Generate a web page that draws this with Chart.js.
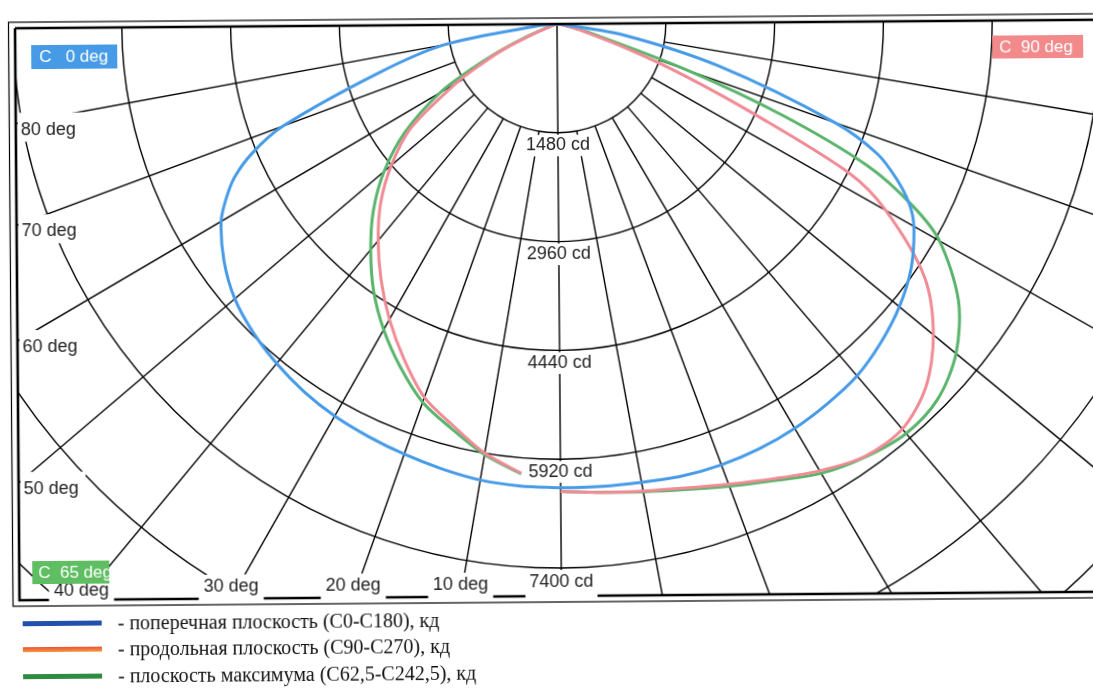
<!DOCTYPE html>
<html>
<head>
<meta charset="utf-8">
<script src="https://cdn.jsdelivr.net/npm/chart.js@4.4.1/dist/chart.umd.min.js"></script>
<style>
  html, body { margin: 0; padding: 0; background: #fff; overflow: hidden; }
  #page { position: relative; width: 1093px; height: 691px; transform: rotate(-0.45deg); transform-origin: 557px 24px; }
  #polar { position: absolute; left: 0; top: 0; }
  .swatch { position: absolute; left: 18px; width: 79px; height: 5px; }
  .txt { position: absolute; left: 113px; height: 26px; line-height: 26px; white-space: nowrap;
         font-family: "Liberation Serif", "Times New Roman", serif; font-size: 20px; color: #111; }
</style>
</head>
<body>
<div id="page">
  <canvas id="polar" width="1093" height="610"></canvas>
  <div class="swatch" style="top:617px;background:#2150ad"></div>
  <div class="txt" style="top:606px">- поперечная плоскость (C0-C180), кд</div>
  <div class="swatch" style="top:643px;background:linear-gradient(#e9503c,#f59a3c)"></div>
  <div class="txt" style="top:632px">- продольная плоскость (C90-C270), кд</div>
  <div class="swatch" style="top:670px;background:#2f8c3f"></div>
  <div class="txt" style="top:659px">- плоскость максимума (C62,5-C242,5), кд</div>
</div>
<script>
// angles from nadir, degrees (same for every branch)
const ANGLES = [0, 5, 10, 15, 20, 25, 30, 35, 40, 45, 50, 55, 60, 62.5, 65, 67.5, 70, 75, 80, 85, 90];

// luminous intensity, cd (left half / right half of the diagram)
const BLUE_LEFT   = [6310, 6305, 6290, 6250, 6210, 6170, 6130, 6070, 5990, 5890, 5760, 5560, 5300, 5100, 4860, 4500, 3980, 2540, 1560, 250, 0];
const BLUE_RIGHT  = [6310, 6320, 6340, 6380, 6400, 6400, 6380, 6340, 6290, 6180, 6040, 5850, 5580, 5380, 5080, 4700, 4020, 2270, 940, 80, 0];
const PINK_LEFT   = [null, 6130, 5920, 5640, 5390, 5010, 4620, 4220, 3820, 3420, 2960, 2440, 1600, 1170, 800, 350, 100, 20, 0, 0, 0];
const PINK_RIGHT  = [6360, 6400, 6460, 6550, 6680, 6850, 7050, 7220, 7240, 7040, 6640, 6070, 5140, 4470, 2950, 1870, 1050, 300, 80, 0, 0];
const GREEN_LEFT  = [null, 6140, 5940, 5690, 5460, 5130, 4780, 4400, 3980, 3560, 3090, 2540, 1850, 1350, 900, 480, 170, 30, 0, 0, 0];
const GREEN_RIGHT = [6360, 6400, 6470, 6570, 6710, 6880, 7090, 7230, 7320, 7270, 7040, 6630, 5980, 5425, 4650, 3315, 1885, 420, 100, 0, 0];

// grid
const CD_STEP = 1480;
const RING_COUNT = 7;
const RING_LABELS = ['1480 cd', '2960 cd', '4440 cd', '5920 cd', '7400 cd'];
const SPOKES = [10, 20, 30, 40, 50, 60, 70, 80];
const SIDE_LABEL_ANGLES = [80, 70, 60, 50];
const BOTTOM_LABEL_ANGLES = [40, 30, 20, 10];

// layout
const AREA = { left: 15, top: 24, right: 1093, bottom: 596 };
const CENTER_X = 557;
const PX_PER_CD = 108.8 / 1480;

const BLUE = '#479be6', PINK = '#f08b95', GREEN = '#5ab46c';
const LABEL_FONT = '18px "Liberation Sans", Arial, sans-serif';
const TAG_FONT = '17px "Liberation Sans", Arial, sans-serif';

function branch(values, side) {
    return ANGLES.map((a, i) => {
        const v = values[i];
        if (v == null) return null;
        const t = a * Math.PI / 180;
        return { x: side * v * Math.sin(t), y: -v * Math.cos(t) };
    }).filter(p => p);
}

function curve(values, side, color, order) {
    return {
        data: branch(values, side),
        borderColor: color,
        borderWidth: 3,
        showLine: true,
        pointRadius: 0,
        tension: 0.3,
        order: order
    };
}

function tag(ctx, text, tx, ty, align, box, fill, color, font) {
    ctx.fillStyle = fill;
    ctx.fillRect(box[0], box[1], box[2] - box[0], box[3] - box[1]);
    ctx.font = font;
    ctx.fillStyle = color;
    ctx.textAlign = align;
    ctx.textBaseline = 'middle';
    ctx.fillText(text, tx, ty);
}

const polarGrid = {
    id: 'polarGrid',
    beforeDatasetsDraw(chart) {
        const { ctx, chartArea: a, scales: { x, y } } = chart;
        const cx = x.getPixelForValue(0), cy = y.getPixelForValue(0);
        const px = v => x.getPixelForValue(v) - cx;
        ctx.save();
        ctx.beginPath();
        ctx.rect(a.left, a.top, a.right - a.left, a.bottom - a.top);
        ctx.clip();
        ctx.strokeStyle = '#000';
        ctx.lineWidth = 1.4;
        for (let k = 1; k <= RING_COUNT; k++) {
            ctx.beginPath();
            ctx.arc(cx, cy, px(k * CD_STEP), 0, Math.PI);
            ctx.stroke();
        }
        const r0 = px(CD_STEP), r1 = px(20 * CD_STEP);
        SPOKES.forEach(deg => [-1, 1].forEach(s => {
            const t = deg * Math.PI / 180;
            ctx.beginPath();
            ctx.moveTo(cx + s * r0 * Math.sin(t), cy + r0 * Math.cos(t));
            ctx.lineTo(cx + s * r1 * Math.sin(t), cy + r1 * Math.cos(t));
            ctx.stroke();
        }));
        ctx.beginPath();
        ctx.moveTo(cx, cy);
        ctx.lineTo(cx, a.bottom + 5);
        ctx.stroke();
        ctx.restore();
    },
    afterDatasetsDraw(chart) {
        const { ctx, chartArea: a, scales: { x, y } } = chart;
        const cx = x.getPixelForValue(0), cy = y.getPixelForValue(0);
        const px = v => x.getPixelForValue(v) - cx;
        ctx.save();

        // double frame
        ctx.strokeStyle = '#000';
        ctx.lineWidth = 1.2;
        ctx.strokeRect(8.5, 18, 1100, 584);
        ctx.lineWidth = 2.6;
        ctx.beginPath();
        ctx.moveTo(a.left, a.top); ctx.lineTo(a.right + 5, a.top);
        ctx.moveTo(a.left, a.top); ctx.lineTo(a.left, a.bottom);
        ctx.lineTo(a.right + 5, a.bottom);
        ctx.stroke();

        ctx.font = LABEL_FONT;
        // intensity labels on the nadir axis
        RING_LABELS.forEach((t, i) => {
            const ry = cy + px((i + 1) * CD_STEP);
            const w = ctx.measureText(t).width;
            const ty = ry + (i === 4 ? 14 : 12.5);
            const bottom = i === 4 ? a.bottom + 3 : ty + 11;
            tag(ctx, t, cx, ty, 'center', [cx - w / 2 - 4, ry + 2, cx + w / 2 + 4, bottom], '#fff', '#222', LABEL_FONT);
        });
        // angle labels on the left border
        SIDE_LABEL_ANGLES.forEach(deg => {
            const hit = cy + (cx - a.left) / Math.tan(deg * Math.PI / 180);
            const ty = hit + 6;
            tag(ctx, deg + ' deg', a.left + 5, ty, 'left', [a.left + 2, ty - 17, a.left + 67, ty + 12], '#fff', '#222', LABEL_FONT);
        });
        // angle labels on the bottom border
        BOTTOM_LABEL_ANGLES.forEach(deg => {
            ctx.font = LABEL_FONT;
            const t = deg + ' deg';
            const w = ctx.measureText(t).width;
            const bx = cx - (a.bottom - cy) * Math.tan(deg * Math.PI / 180);
            const ty = deg === 40 ? 587 : 584;
            tag(ctx, t, bx, ty, 'center', [bx - w / 2 - 5, 572, bx + w / 2 + 5, a.bottom + 3], '#fff', '#222', LABEL_FONT);
        });

        // plane tags
        tag(ctx, 'C   0 deg', 39, 53, 'left', [31, 41, 117, 65], BLUE, '#fff', TAG_FONT);
        tag(ctx, 'C  90 deg', 999, 51, 'left', [992, 39, 1083, 62], '#f28a8c', '#fff', TAG_FONT);
        tag(ctx, 'C  65 deg', 34, 569, 'left', [28, 557, 105, 580], '#5fbd62', '#fff', TAG_FONT);
        ctx.restore();
    }
};

new Chart(document.getElementById('polar'), {
    type: 'scatter',
    data: {
        datasets: [
            curve(BLUE_LEFT, -1, BLUE, 0),
            curve(BLUE_RIGHT, 1, BLUE, 0),
            curve(PINK_LEFT, -1, PINK, 1),
            curve(PINK_RIGHT, 1, PINK, 1),
            curve(GREEN_LEFT, -1, GREEN, 2),
            curve(GREEN_RIGHT, 1, GREEN, 2)
        ]
    },
    options: {
        responsive: false,
        animation: false,
        layout: { padding: { left: AREA.left, top: AREA.top, right: 1093 - AREA.right, bottom: 610 - AREA.bottom } },
        scales: {
            x: { type: 'linear', display: false, min: -(CENTER_X - AREA.left) / PX_PER_CD, max: (AREA.right - CENTER_X) / PX_PER_CD },
            y: { type: 'linear', display: false, min: -(AREA.bottom - AREA.top) / PX_PER_CD, max: 0 }
        },
        plugins: {
            legend: { display: false },
            tooltip: { enabled: false }
        }
    },
    plugins: [polarGrid]
});
</script>
</body>
</html>
